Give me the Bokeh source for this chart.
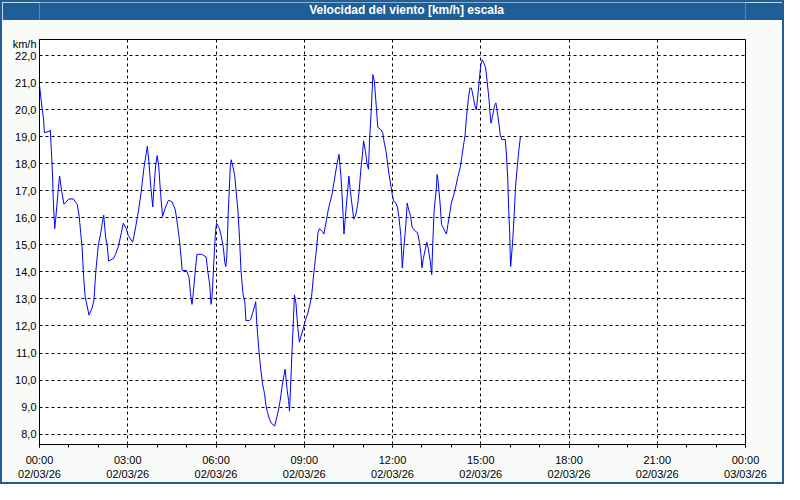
from bokeh.plotting import figure
from bokeh.layouts import column
from bokeh.models import FixedTicker, Label, Range1d, ColumnDataSource
from bokeh.embed import file_html
from bokeh.resources import INLINE

# ---------------- data ----------------
title_text = "Velocidad del viento [km/h] escala"
unit_label = "km/h"

x_tick_hours = [0, 3, 6, 9, 12, 15, 18, 21, 24]
x_tick_labels = ["00:00\n02/03/26", "03:00\n02/03/26", "06:00\n02/03/26",
                 "09:00\n02/03/26", "12:00\n02/03/26", "15:00\n02/03/26",
                 "18:00\n02/03/26", "21:00\n02/03/26", "00:00\n03/03/26"]
y_ticks = [8, 9, 10, 11, 12, 13, 14, 15, 16, 17, 18, 19, 20, 21, 22]
y_tick_labels = ["8,0", "9,0", "10,0", "11,0", "12,0", "13,0", "14,0", "15,0",
                 "16,0", "17,0", "18,0", "19,0", "20,0", "21,0", "22,0"]

# minutes after 00:00 on 02/03/26
minutes = [0, 5, 8, 10, 20, 22, 25, 27, 28, 31, 33, 38, 41, 45, 50, 60, 69, 77, 81, 84,
           87, 90, 93, 101, 107, 111, 115, 120, 125, 128, 131, 135, 138, 141, 151, 155, 161, 167, 171, 177,
           181, 190, 193, 200, 207, 213, 217, 220, 223, 227, 231, 233, 237, 240, 243, 247, 251, 257, 263, 270,
           277, 281, 285, 289, 291, 300, 305, 308, 311, 313, 317, 321, 331, 340, 343, 347, 350, 352, 357, 359,
           361, 367, 371, 375, 378, 380, 382, 385, 387, 389, 391, 395, 398, 401, 405, 408, 411, 415, 419, 421,
           428, 431, 435, 439, 441, 443, 447, 451, 455, 459, 462, 465, 469, 473, 480, 483, 487, 491, 495, 499,
           501, 505, 508, 510, 513, 515, 518, 520, 523, 527, 530, 533, 538, 542, 547, 551, 555, 558, 561, 565,
           568, 571, 577, 580, 585, 589, 593, 597, 600, 605, 608, 611, 615, 618, 621, 624, 628, 631, 634, 638,
           641, 645, 649, 652, 655, 659, 661, 665, 668, 671, 673, 677, 680, 683, 687, 690, 697, 700, 703, 707,
           710, 713, 717, 720, 723, 727, 730, 733, 737, 740, 743, 747, 750, 753, 757, 760, 767, 771, 775, 778,
           780, 783, 787, 790, 793, 797, 800, 802, 805, 809, 811, 813, 817, 820, 823, 827, 830, 833, 837, 840,
           845, 849, 853, 858, 861, 865, 868, 871, 875, 878, 881, 885, 888, 891, 895, 898, 900, 903, 907, 910,
           913, 917, 919, 921, 924, 928, 931, 933, 937, 940, 943, 950, 952, 955, 957, 959, 960, 961, 963, 965,
           968, 971, 975, 978, 981]

speeds = [20.9, 20.1, 19.7, 19.15, 19.2, 19.25, 18.2, 17.4, 16.7, 15.6, 15.95, 17.0, 17.55, 17.0, 16.5, 16.7, 16.7, 16.5, 16.05, 15.45,
          14.9, 13.8, 13.1, 12.4, 12.65, 12.95, 14.05, 15.0, 15.45, 15.8, 16.1, 15.25, 15.0, 14.4, 14.5, 14.65, 14.95, 15.45, 15.8, 15.6,
          15.35, 15.1, 15.35, 16.05, 16.9, 17.85, 18.3, 18.65, 18.1, 17.15, 16.4, 17.0, 17.95, 18.3, 17.95, 16.9, 16.05, 16.4, 16.65, 16.6,
          16.3, 15.8, 15.25, 14.5, 14.05, 14.05, 13.8, 13.2, 12.8, 13.1, 13.9, 14.65, 14.65, 14.55, 14.05, 13.55, 12.8, 13.1, 14.85, 15.5,
          15.8, 15.6, 15.3, 14.9, 14.35, 14.2, 14.55, 16.2, 17.0, 17.85, 18.15, 17.85, 17.6, 17.0, 16.2, 15.25, 14.05, 13.2, 12.85, 12.2,
          12.2, 12.25, 12.5, 12.75, 12.9, 12.15, 11.2, 10.45, 9.85, 9.5, 9.05, 8.8, 8.55, 8.4, 8.3, 8.55, 8.85, 9.25, 9.8, 10.2,
          10.4, 9.65, 9.25, 8.85, 10.15, 11.05, 12.25, 13.15, 12.85, 11.9, 11.4, 11.6, 11.9, 12.2, 12.45, 12.75, 13.1, 13.7, 14.2, 14.85,
          15.45, 15.6, 15.5, 15.4, 15.9, 16.3, 16.6, 16.9, 17.25, 17.8, 18.1, 18.35, 17.5, 16.55, 15.4, 16.05, 16.9, 17.55, 17.0, 16.4,
          15.95, 16.1, 16.5, 17.0, 17.7, 18.4, 18.85, 18.45, 18.0, 17.8, 18.8, 20.1, 21.3, 21.05, 20.1, 19.35, 19.25, 19.15, 18.8, 18.45,
          18.0, 17.6, 17.15, 16.8, 16.6, 16.55, 16.4, 16.05, 15.35, 14.15, 14.85, 15.7, 16.55, 16.3, 16.05, 15.65, 15.5, 15.45, 15.1, 14.65,
          14.15, 14.5, 14.85, 15.1, 14.85, 14.4, 13.9, 15.0, 16.3, 17.0, 17.6, 17.35, 16.55, 15.75, 15.65, 15.5, 15.4, 15.75, 16.2, 16.55,
          16.85, 17.15, 17.5, 17.85, 18.2, 18.7, 19.05, 19.75, 20.45, 20.8, 20.8, 20.45, 20.15, 20.0, 20.7, 21.3, 21.65, 21.85, 21.7, 21.55,
          21.05, 20.35, 19.85, 19.5, 19.75, 20.15, 20.25, 20.0, 19.5, 19.05, 18.9, 18.9, 18.45, 17.5, 16.3, 15.45, 14.75, 14.2, 14.65, 15.1,
          16.05, 17.15, 18.0, 18.55, 19.0]

# ---------------- styling ----------------
BLUE = "#1f5f97"
PANEL_BG = "#f9fbf9"
FONT = "Liberation Sans"
UNIT_LABEL_Y = 22.43   # vertical placement of the unit caption beside the axis top

hdr = figure(width=780, height=18, output_backend="svg", toolbar_location=None, title=None,
             x_range=Range1d(0, 1), y_range=Range1d(0, 1),
             x_axis_location=None, y_axis_location=None, min_border=0,
             background_fill_color=BLUE, border_fill_color=BLUE, outline_line_color=None)
hdr.grid.visible = False
hdr.add_layout(Label(x=0.520, y=0.56, text=title_text, text_align="center", text_baseline="middle",
                     text_color="white", text_font=FONT, text_font_style="bold", text_font_size="12px"))

p = figure(width=780, height=462, output_backend="svg", toolbar_location=None, title=None,
           x_range=Range1d(0, 24), y_range=Range1d(7.616, 22.598),
           min_border_left=37, min_border_right=37, min_border_top=19, min_border_bottom=37,
           background_fill_color="white", border_fill_color=PANEL_BG,
           outline_line_color="black", outline_line_width=1)

src = ColumnDataSource(data=dict(h=[m / 60.0 for m in minutes], v=speeds))
p.line("h", "v", source=src, line_color="#0000ff", line_width=1)

p.xaxis.ticker = FixedTicker(ticks=x_tick_hours, minor_ticks=list(range(25)))
p.xaxis.major_label_overrides = {h: lab for h, lab in zip(x_tick_hours, x_tick_labels)}

y_labels = {t: lab for t, lab in zip(y_ticks, y_tick_labels)}
y_labels[UNIT_LABEL_Y] = unit_label
p.yaxis.ticker = FixedTicker(ticks=y_ticks + [UNIT_LABEL_Y], minor_ticks=[])
p.yaxis.major_label_overrides = y_labels

for ax in (p.xaxis[0], p.yaxis[0]):
    ax.axis_line_color = "black"
    ax.major_label_text_font = FONT
    ax.major_label_text_font_size = "11px"
    ax.major_label_text_color = "black"
    ax.major_tick_in = 0
    ax.minor_tick_in = 0
    ax.major_tick_line_color = "black"
    ax.minor_tick_line_color = "black"

p.xaxis.major_tick_out = 3
p.xaxis.minor_tick_out = 3
p.xaxis.major_label_standoff = 6
p.yaxis.major_tick_out = 0
p.yaxis.minor_tick_out = 0
p.yaxis.major_label_standoff = 3

p.xgrid.ticker = FixedTicker(ticks=x_tick_hours)
p.ygrid.ticker = FixedTicker(ticks=y_ticks)
for g in (p.xgrid[0], p.ygrid[0]):
    g.grid_line_color = "black"
    g.grid_line_dash = "3 3"
    g.grid_line_width = 1
    g.grid_line_alpha = 1.0

layout = column(hdr, p, spacing=0, styles={"border": "2px solid " + BLUE})

open("out.html", "w").write(file_html(layout, INLINE))
